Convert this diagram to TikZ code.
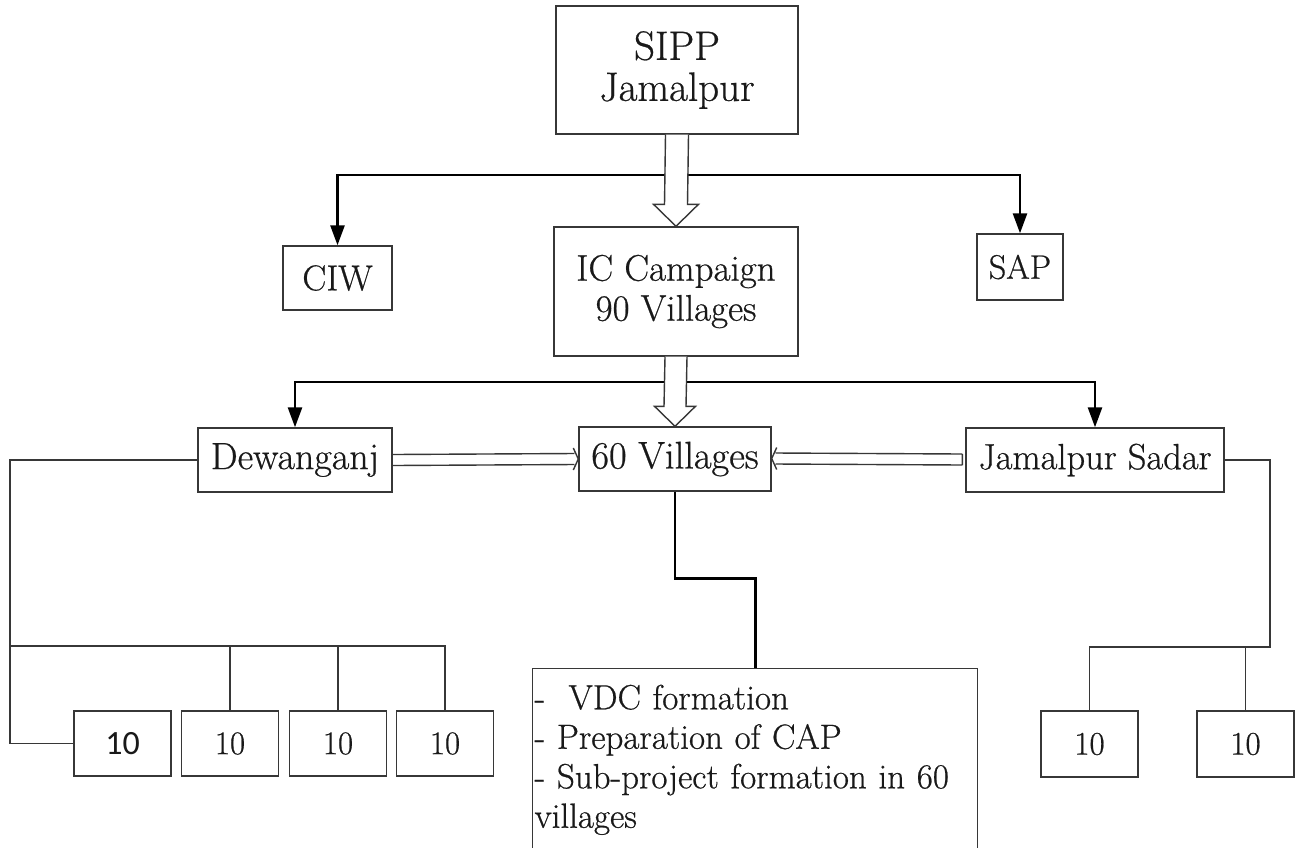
\documentclass[tikz,border=0pt]{standalone}
\usepackage{fontspec}
\setmainfont{Latin Modern Roman}[FakeBold=0.6]
\newfontfamily\carlito{Carlito}
\usetikzlibrary{arrows.meta,calc}
\definecolor{boxc}{RGB}{55,55,55}
\definecolor{txtc}{RGB}{25,25,25}
\begin{document}
\begin{tikzpicture}[x=1pt,y=-1pt,
  box/.style={draw=boxc, line width=1.4pt, fill=white, inner sep=0pt, text=txtc,
    align=center, font=\fontsize{37}{40}\selectfont},
  bigbox/.style={box, font=\fontsize{41}{41}\selectfont},
  tenbox/.style={box, minimum width=97, minimum height=65, font=\fontsize{33}{38}\selectfont},
  blk/.style={line width=2.6pt, draw=black, -{Triangle[length=20pt,width=14pt]}},
  thin/.style={line width=1.4pt, draw=boxc},
  hollow/.style={line width=1.4pt, draw=boxc, fill=white, line join=miter},
  dbl/.style={line width=1.4pt, draw=boxc}]
\useasboundingbox (0,0) rectangle (1300,847);
\clip (0,0) rectangle (1300,847);
\fill[white] (0,0) rectangle (1300,847);

% nodes
\node[bigbox, minimum width=242, minimum height=128] (sipp) at (677,70) {SIPP\\Jamalpur};
\node[box, minimum width=244, minimum height=129] (ic) at (676,291.5) {IC Campaign\\90 Villages};
\node[box, minimum width=109, minimum height=64, font=\fontsize{36}{40}\selectfont] (ciw) at (337.5,278) {CIW};
\node[box, minimum width=86, minimum height=66, font=\fontsize{34}{40}\selectfont] (sap) at (1020,267) {SAP};
\node[box, minimum width=194, minimum height=64, font=\fontsize{38}{40}\selectfont] (dew) at (295,460) {Dewanganj};
\node[box, minimum width=192, minimum height=64, font=\fontsize{38.5}{40}\selectfont] (v60) at (675,459) {60 Villages};
\node[box, minimum width=258, minimum height=64, font=\fontsize{36.5}{40}\selectfont] (js) at (1095,460) {Jamalpur Sadar};

\node[tenbox, font=\carlito\fontsize{34}{38}\selectfont] (l1) at (122.5,743.5) {10};
\node[tenbox] (l2) at (230,743.5) {10};
\node[tenbox] (l3) at (338,743.5) {10};
\node[tenbox] (l4) at (445,743.5) {10};
\node[tenbox, minimum height=66] (r1) at (1089.5,744) {10};
\node[tenbox, minimum height=66] (r2) at (1245.5,744) {10};

\node[box, anchor=north west, text width=441, inner xsep=2, inner ysep=16, align=left,
  font=\fontsize{35}{39.5}\selectfont] (tasks) at (532,668)
  {-~ VDC formation\\- Preparation of CAP\\- Sub-project formation in 60\\villages\rule[-60pt]{0pt}{0pt}};

% black branch arrows
\coordinate (j1) at (677,175);
\coordinate (j2) at (676,382);
\draw[blk] (j1) -| (ciw.north);
\draw[blk] (j1) -| (sap.north);
\draw[blk] (j2) -| (dew.north);
\draw[blk] (j2) -| (js.north);

% hollow arrows
\draw[hollow] ($(sipp.south)+(-11.5,0)$) -- ($(ic.north)+(-11.5,-22)$) -- ($(ic.north)+(-22.5,-22)$)
  -- (ic.north) -- ($(ic.north)+(22.5,-22)$) -- ($(ic.north)+(11.5,-22)$) -- ($(sipp.south)+(11.5,0)$);
\draw[hollow] ($(ic.south)+(-11,0)$) -- ($(v60.north)+(-11,-20)$) -- ($(v60.north)+(-20.5,-20)$)
  -- (v60.north) -- ($(v60.north)+(20.5,-20)$) -- ($(v60.north)+(11,-20)$) -- ($(ic.south)+(11,0)$);

% double-line arrows
\draw[dbl] ($(dew.east)+(0,-5.5)$) -- ($(v60.west)+(-4,-5.5)$)
  ($(dew.east)+(0,5.5)$) -- ($(v60.west)+(-4,5.5)$)
  ($(v60.west)+(-5,-11)$) -- (v60.west) -- ($(v60.west)+(-5,11)$);
\draw[dbl] ($(js.west)+(-3,-6)$) -- ($(v60.east)+(4,-6)$)
  ($(js.west)+(-3,5)$) -- ($(v60.east)+(4,5)$)
  ($(js.west)+(-3,-6)$) -- ($(js.west)+(-3,5)$)
  ($(v60.east)+(5,-11.5)$) -- ($(v60.east)+(0,-0.5)$) -- ($(v60.east)+(5,10.5)$);

% 60 villages to tasks
\draw[line width=2.6pt, draw=black] (v60.south) -- ++(0,87) -| (tasks.north);

% left tree
\coordinate (lbus) at (10,646);
\draw[thin] (dew.west) -| (lbus |- l1.west) -- (l1.west);
\draw[thin] (lbus) -| (l4.north);
\draw[thin] (l2.north) -- (l2.north |- lbus);
\draw[thin] (l3.north) -- (l3.north |- lbus);

% right tree
\coordinate (rbus) at (1270,647);
\draw[thin] (js.east) -| (rbus) -| (r1.north);
\draw[thin] (r2.north) -- (r2.north |- rbus);
\end{tikzpicture}
\end{document}
